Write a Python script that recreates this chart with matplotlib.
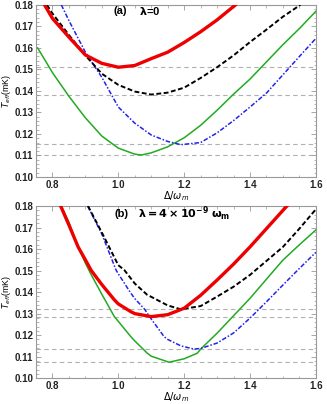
import matplotlib
matplotlib.use("Agg")
import matplotlib.pyplot as plt

plt.rcParams["font.family"] = ["Liberation Sans", "DejaVu Sans"]

# ---------------- data ----------------
# Panel (a): lambda = 0
a_red_x   = [0.776, 0.80, 0.85, 0.90, 0.95, 1.00, 1.05, 1.10, 1.15, 1.20, 1.25, 1.30, 1.356]
a_red_y   = [0.180, 0.1737, 0.1650, 0.1567, 0.1528, 0.1510, 0.1518, 0.1550, 0.1580, 0.1625, 0.1675, 0.1730, 0.180]

a_black_x = [0.783, 0.80, 0.85, 0.90, 0.95, 1.00, 1.05, 1.10, 1.15, 1.20, 1.25, 1.30, 1.35, 1.40, 1.45, 1.50, 1.553]
a_black_y = [0.180, 0.1760, 0.1660, 0.1565, 0.1480, 0.1428, 0.1397, 0.1383, 0.1392, 0.1415, 0.1460, 0.1510, 0.1565, 0.1627, 0.1685, 0.1745, 0.180]

a_blue_x  = [0.827, 0.85, 0.90, 0.95, 1.00, 1.05, 1.10, 1.15, 1.19, 1.25, 1.30, 1.35, 1.40, 1.45, 1.50, 1.55, 1.60]
a_blue_y  = [0.180, 0.1727, 0.1580, 0.1463, 0.1325, 0.1250, 0.1195, 0.1165, 0.1150, 0.1160, 0.1205, 0.1262, 0.1325, 0.1390, 0.1475, 0.1560, 0.1644]

a_green_x = [0.755, 0.80, 0.85, 0.90, 0.95, 1.00, 1.05, 1.07, 1.10, 1.15, 1.20, 1.25, 1.30, 1.35, 1.40, 1.45, 1.50, 1.55, 1.60]
a_green_y = [0.1600, 0.1485, 0.1375, 0.1275, 0.1190, 0.1134, 0.1106, 0.1102, 0.1112, 0.1140, 0.1182, 0.1240, 0.1310, 0.1385, 0.1455, 0.1535, 0.1615, 0.1690, 0.1770]

a_ref_levels = [0.151, 0.1383, 0.1151, 0.1102]

# Panel (b): lambda = 4e-9 omega_m
b_red_x   = [0.825, 0.85, 0.878, 0.90, 0.918, 0.95, 0.988, 1.00, 1.038, 1.05, 1.10, 1.15, 1.20, 1.25, 1.30, 1.35, 1.40, 1.45, 1.50, 1.512]
b_red_y   = [0.180, 0.1712, 0.1610, 0.1550, 0.1500, 0.1435, 0.1364, 0.1345, 0.1309, 0.1300, 0.1286, 0.1295, 0.1325, 0.1385, 0.1456, 0.1530, 0.1610, 0.1695, 0.1780, 0.180]

b_black_x = [0.908, 0.95, 1.00, 1.018, 1.05, 1.088, 1.10, 1.15, 1.19, 1.25, 1.30, 1.35, 1.40, 1.45, 1.50, 1.55, 1.60]
b_black_y = [0.180, 0.1677, 0.1525, 0.1503, 0.1440, 0.1387, 0.1378, 0.1338, 0.1320, 0.1335, 0.1379, 0.1425, 0.1480, 0.1545, 0.1610, 0.1695, 0.1785]

b_blue_x  = [0.907, 0.95, 0.993, 1.00, 1.038, 1.05, 1.08, 1.10, 1.139, 1.15, 1.19, 1.23, 1.25, 1.30, 1.35, 1.40, 1.45, 1.50, 1.55, 1.60]
b_blue_y  = [0.180, 0.1670, 0.1503, 0.1485, 0.1395, 0.1370, 0.1320, 0.1275, 0.1193, 0.1180, 0.1150, 0.1135, 0.1138, 0.1163, 0.1210, 0.1279, 0.1355, 0.1433, 0.1510, 0.1585]

b_green_x = [0.827, 0.85, 0.878, 0.90, 0.918, 0.95, 0.988, 1.00, 1.038, 1.05, 1.088, 1.10, 1.154, 1.20, 1.24, 1.25, 1.30, 1.35, 1.40, 1.45, 1.50, 1.55, 1.60]
b_green_y = [0.180, 0.1725, 0.1610, 0.1535, 0.1480, 0.1390, 0.1286, 0.1264, 0.1193, 0.1173, 0.1116, 0.1102, 0.1074, 0.1090, 0.1116, 0.1135, 0.1209, 0.1290, 0.1371, 0.1460, 0.1549, 0.1620, 0.1689]

b_ref_levels = [0.1320, 0.1284, 0.1134, 0.1074]

x_ticks = [0.8, 1.0, 1.2, 1.4, 1.6]
y_ticks = [0.10, 0.11, 0.12, 0.13, 0.14, 0.15, 0.16, 0.17, 0.18]

# ---------------- figure ----------------
fig = plt.figure(figsize=(3.27, 4.04), dpi=100)
ax_a = fig.add_axes([0.110, 0.562, 0.856, 0.426])
ax_b = fig.add_axes([0.110, 0.064, 0.856, 0.426])

panels = [
    (ax_a, a_red_x, a_red_y, a_black_x, a_black_y, a_blue_x, a_blue_y, a_green_x, a_green_y, a_ref_levels),
    (ax_b, b_red_x, b_red_y, b_black_x, b_black_y, b_blue_x, b_blue_y, b_green_x, b_green_y, b_ref_levels),
]

for ax, rx, ry, kx, ky, bx, by, gx, gy, levels in panels:
    for lv in levels:
        ax.axhline(lv, color="#b0b0b0", lw=0.8, ls=(0, (4, 3)), zorder=1)
    ax.plot(gx, gy, color="#22aa22", lw=1.1, zorder=3)
    ax.plot(bx, by, color="#2222ee", lw=1.1, ls=(0, (3, 1.2, 1, 1.2)), zorder=3)
    ax.plot(kx, ky, color="black", lw=1.4, ls=(0, (2.5, 1.3)), zorder=4)
    ax.plot(rx, ry, color="#ee0000", lw=2.4, zorder=5)
    ax.set_xlim(0.755, 1.6)
    ax.set_ylim(0.10, 0.18)
    ax.set_xticks(x_ticks)
    ax.set_yticks(y_ticks)
    ax.set_xticklabels([f"{v:.1f}" for v in x_ticks], fontsize=7, fontweight="bold", color="#222222")
    ax.set_yticklabels([f"{v:.2f}" for v in y_ticks], fontsize=7, fontweight="bold", color="#222222")
    ax.set_xticks([0.75 + 0.05 * i for i in range(18)], minor=True)
    ax.set_yticks([0.10 + 0.002 * i for i in range(41)], minor=True)
    ax.tick_params(which="both", direction="in", color="#999999", top=True, right=True)
    ax.tick_params(which="major", length=3.5, width=0.6, pad=2)
    ax.tick_params(which="minor", length=1.8, width=0.5)
    for s in ax.spines.values():
        s.set_color("#999999")
        s.set_linewidth(0.8)
    ax.set_xlabel(r"$\Delta/\omega_m$", fontsize=7)
    ax.xaxis.set_label_coords(0.5, -0.072)
    ax.set_ylabel(r"$T_{eff}$(mK)", fontsize=6.3)
    ax.yaxis.set_label_coords(-0.082, 0.5)

ax_a.text(0.984, 0.1771, "(a)", fontsize=8, fontweight="bold", ha="left", va="center")
ax_a.text(1.063, 0.1771, r"$\mathbf{\lambda}$=0", fontsize=8, fontweight="bold", ha="left", va="center")
ax_b.text(0.987, 0.1765, "(b)", fontsize=8, fontweight="bold", ha="left", va="center")
ax_b.text(1.060, 0.1765, r"$\mathbf{\lambda = 4\times10^{-9}}$ $\mathbf{\omega_m}$", fontsize=8, fontweight="bold", ha="left", va="center")

fig.savefig("out.png", dpi=100)
